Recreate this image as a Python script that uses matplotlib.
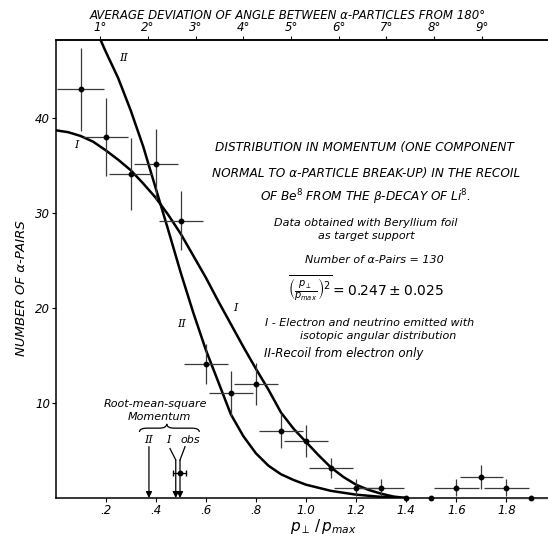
import matplotlib
matplotlib.use("Agg")
import matplotlib.pyplot as plt
from matplotlib.path import Path
from matplotlib.patches import PathPatch

plt.rcParams.update(
    {
        "font.family": "DejaVu Sans",
        "font.size": 8,
        "mathtext.fontset": "dejavusans",
        "axes.linewidth": 1.1,
    }
)

# measured points (p_perp / p_max, number of alpha pairs)
pts_x = [0.10, 0.20, 0.30, 0.40, 0.50, 0.60, 0.70, 0.80, 0.90, 1.00,
         1.10, 1.20, 1.30, 1.40, 1.50, 1.60, 1.70, 1.80, 1.90]
pts_y = [43.0, 38.0, 34.1, 35.1, 29.2, 14.1, 11.0, 12.0, 7.1, 6.0,
         3.2, 1.1, 1.1, 0.0, 0.0, 1.1, 2.2, 1.1, 0.0]
pts_xerr = [0.095, 0.09, 0.086, 0.087, 0.088, 0.087, 0.088, 0.087, 0.087, 0.087,
            0.087, 0.09, 0.09, 0.0, 0.0, 0.09, 0.087, 0.09, 0.09]
pts_yerr = [4.4, 4.1, 3.8, 3.7, 3.1, 2.1, 2.35, 2.2, 1.85, 1.7,
            1.05, 0.85, 0.85, 0.0, 0.0, 0.85, 1.25, 0.85, 0.0]

# curve I: electron and neutrino, isotropic
curve1_x = [0.0, 0.05, 0.10, 0.15, 0.20, 0.25, 0.30, 0.35, 0.40, 0.45, 0.50,
            0.55, 0.60, 0.65, 0.70, 0.75, 0.80, 0.85, 0.90, 0.95, 1.00,
            1.05, 1.10, 1.15, 1.20, 1.25, 1.30, 1.35, 1.40]
curve1_y = [38.7, 38.5, 38.1, 37.5, 36.6, 35.6, 34.5, 33.1, 31.6, 29.8, 27.8,
            25.5, 23.2, 20.7, 18.3, 15.9, 13.6, 11.4, 9.0, 7.3, 5.9,
            4.5, 3.2, 2.2, 1.4, 0.85, 0.45, 0.15, 0.0]

# curve II: recoil from electron only
curve2_x = [0.18, 0.20, 0.25, 0.30, 0.35, 0.40, 0.45, 0.50, 0.55, 0.60, 0.65,
            0.70, 0.75, 0.80, 0.85, 0.90, 0.95, 1.00, 1.10, 1.20, 1.30, 1.40]
curve2_y = [48.2, 47.0, 44.2, 40.8, 37.0, 32.6, 28.2, 23.7, 19.5, 15.6, 12.2,
            8.8, 6.5, 4.7, 3.4, 2.5, 1.9, 1.4, 0.75, 0.35, 0.12, 0.0]

# root-mean-square momentum markers
rms_labels = ["II", "I", "obs"]
rms_x = [0.373, 0.480, 0.497]
obs_rms = 0.497
obs_lo, obs_hi = 0.471, 0.522

x_ticks = [0.2, 0.4, 0.6, 0.8, 1.0, 1.2, 1.4, 1.6, 1.8]
x_ticklabels = [".2", ".4", ".6", ".8", "1.0", "1.2", "1.4", "1.6", "1.8"]
y_ticks = [10, 20, 30, 40]
deg_ticks = [1, 2, 3, 4, 5, 6, 7, 8, 9]

IT = dict(style="italic")

fig = plt.figure(figsize=(5.48, 5.36), dpi=100)
ax = fig.add_axes([0.1013, 0.0709, 0.8987, 0.8545])
ax.set_xlim(0, 1.966)
ax.set_ylim(0, 48.2)
ax.spines["right"].set_visible(False)

ax.plot(curve1_x, curve1_y, color="black", lw=1.8)
ax.plot(curve2_x, curve2_y, color="black", lw=1.8)

ax.errorbar(pts_x, pts_y, xerr=pts_xerr, yerr=pts_yerr, fmt="o", ms=3.2,
            color="black", ecolor="#3a3a3a", elinewidth=0.9, capsize=0,
            clip_on=False, zorder=3)

# observed rms value with its uncertainty
ax.errorbar([obs_rms], [2.6], xerr=[[obs_rms - obs_lo], [obs_hi - obs_rms]],
            fmt="o", ms=3.2, color="black", elinewidth=0.9, capsize=2)

# arrows to the axis
arrow_kw = dict(arrowstyle="-|>", color="black", lw=0.9, mutation_scale=9,
                shrinkA=0, shrinkB=0)
ax.annotate("", xy=(rms_x[0], 0), xytext=(rms_x[0], 5.4), arrowprops=arrow_kw)
ax.plot([0.457, rms_x[1]], [5.2, 4.0], color="black", lw=0.9)
ax.annotate("", xy=(rms_x[1], 0), xytext=(rms_x[1], 4.0), arrowprops=arrow_kw)
ax.plot([0.517, rms_x[2]], [5.4, 4.0], color="black", lw=0.9)
ax.annotate("", xy=(rms_x[2], 0), xytext=(rms_x[2], 4.0), arrowprops=arrow_kw)

serif = dict(family="DejaVu Serif", style="italic", fontsize=8)
ax.text(0.373, 6.1, rms_labels[0], ha="center", va="center", **serif)
ax.text(0.450, 6.1, rms_labels[1], ha="center", va="center", **serif)
ax.text(0.537, 6.1, rms_labels[2], ha="center", va="center", fontsize=8, **IT)

# curly brace over the three markers
x0, xc, x1 = 0.335, 0.444, 0.574
yb, ym, yt = 6.95, 7.35, 7.8
verts = [(x0, yb), (x0, ym), (x0 + 0.03, ym), (xc - 0.03, ym),
         (xc, ym), (xc, yt), (xc, ym), (xc + 0.03, ym), (x1 - 0.03, ym),
         (x1, ym), (x1, yb)]
codes = [Path.MOVETO, Path.CURVE3, Path.CURVE3, Path.LINETO,
         Path.CURVE3, Path.CURVE3, Path.CURVE3, Path.CURVE3, Path.LINETO,
         Path.CURVE3, Path.CURVE3]
ax.add_patch(PathPatch(Path(verts, codes), fill=False, lw=0.9, color="black"))
ax.text(0.397, 9.85, "Root-mean-square", ha="center", va="center", fontsize=8, **IT)
ax.text(0.413, 8.5, "Momentum", ha="center", va="center", fontsize=8, **IT)

# curve labels
ax.text(0.27, 46.3, "II", ha="center", va="center", **serif)
ax.text(0.085, 37.1, "I", ha="center", va="center", **serif)
ax.text(0.504, 18.3, "II", ha="center", va="center", **serif)
ax.text(0.717, 20.0, "I", ha="center", va="center", **serif)


# description block, positioned in figure pixels
def ftext(xp, yp, s, **kw):
    fig.text(xp / 548, 1 - yp / 536, s, style="italic", **kw)


ftext(364, 148, "DISTRIBUTION IN MOMENTUM (ONE COMPONENT", ha="center", va="center", fontsize=8.7)
ftext(366, 173, "NORMAL TO \u03b1-PARTICLE BREAK-UP) IN THE RECOIL", ha="center", va="center", fontsize=8.7)
ftext(365, 197, r"OF Be$^{8}$ FROM THE $\beta$-DECAY OF Li$^{8}$.", ha="center", va="center", fontsize=8.7)
ftext(366, 223, "Data obtained with Beryllium foil", ha="center", va="center", fontsize=8)
ftext(366, 236, "as target support", ha="center", va="center", fontsize=8)
ftext(374, 260, "Number of \u03b1-Pairs = 130", ha="center", va="center", fontsize=8)
ftext(366, 289, r"$\overline{\left(\frac{p_{\perp}}{p_{max}}\right)^{2}} = 0.247 \pm 0.025$",
      ha="center", va="center", fontsize=10)
ftext(265, 323, "I - Electron and neutrino emitted with", ha="left", va="center", fontsize=8)
ftext(300, 336, "isotopic angular distribution", ha="left", va="center", fontsize=8)
ftext(264, 354, "II-Recoil from electron only", ha="left", va="center", fontsize=8.5)

# axes ticks and labels
ax.set_xticks(x_ticks)
ax.set_xticklabels(x_ticklabels)
ax.set_yticks(y_ticks)
ax.tick_params(axis="both", direction="out", length=3, width=0.8, labelsize=8.5, pad=1)


def x_to_deg(x):
    return (x + 0.012) / 0.1904


def deg_to_x(d):
    return d * 0.1904 - 0.012


top = ax.secondary_xaxis("top", functions=(x_to_deg, deg_to_x))
top.set_xticks(deg_ticks)
top.set_xticklabels([f"{d}\u00b0" for d in deg_ticks])
top.tick_params(direction="out", length=3, width=0.8, labelsize=8.5, pad=1)

for lbl in ax.get_xticklabels() + ax.get_yticklabels() + top.get_xticklabels():
    lbl.set_style("italic")

fig.text(0.525, 0.972, "AVERAGE DEVIATION OF ANGLE BETWEEN \u03b1-PARTICLES FROM 180\u00b0",
         ha="center", va="center", fontsize=8.5, style="italic")
fig.text(22 / 548, 1 - 288 / 536, "NUMBER OF \u03b1-PAIRS", rotation=90,
         ha="center", va="center", fontsize=9.5, style="italic")
ftext(323, 535.5, r"$p_{\perp}\,/\,p_{max}$", ha="center", va="bottom", fontsize=11)

fig.savefig("out.png", dpi=100)
